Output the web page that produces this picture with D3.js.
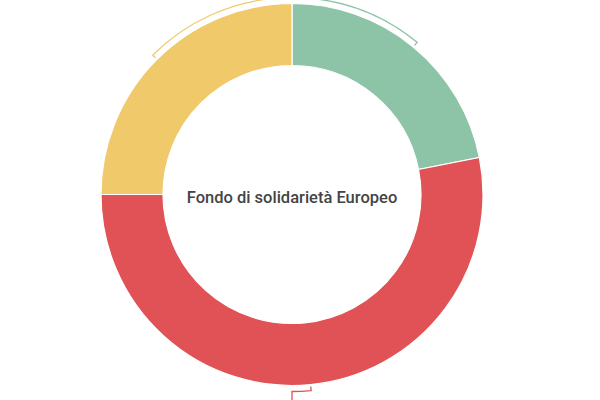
<!DOCTYPE html>
<html>
<head>
<meta charset="utf-8">
<script src="https://cdn.jsdelivr.net/npm/d3@7"></script>
<style>
html,body{margin:0;padding:0;background:#fff;overflow:hidden;}
svg{display:block;}
</style>
</head>
<body>
<svg id="chart" width="600" height="400"></svg>
<script>
const categories = ["Verde", "Rosso", "Giallo"];
const values = [21.9, 53.1, 25.0];
const colors = ["#8dc3a7", "#e05256", "#f0c96a"];
// angle (degrees, clockwise from top) where each leader line leaves toward its label
const labelAngles = [4, 180, 356];
const centerTitle = "Fondo di solidarietà Europeo";

const W = 600, H = 400;
const cx = 292, cy = 194.5;
const outerR = 191, innerR = 129;
const bracketR = 197, tickR = 193, outR = 240;

const svg = d3.select("#chart");
const g = svg.append("g").attr("transform", `translate(${cx},${cy})`);

const data = categories.map((c, i) => ({ name: c, value: values[i], color: colors[i], labelAngle: labelAngles[i] }));
const pie = d3.pie().value(d => d.value).sort(null);
const arcs = pie(data);
const arc = d3.arc().innerRadius(innerR).outerRadius(outerR);

g.selectAll("path.slice").data(arcs).join("path")
  .attr("class", "slice")
  .attr("d", arc)
  .attr("fill", d => d.data.color)
  .attr("stroke", "#fff")
  .attr("stroke-width", 1.2);

function pt(a, r) { return [r * Math.sin(a), -r * Math.cos(a)]; }

g.selectAll("path.leader").data(arcs).join("path")
  .attr("class", "leader")
  .attr("fill", "none")
  .attr("stroke", d => d.data.color)
  .attr("stroke-width", 1.3)
  .attr("d", d => {
    const mid = (d.startAngle + d.endAngle) / 2;
    const la = d.data.labelAngle * Math.PI / 180;
    const p = d3.path();
    const a = pt(mid, tickR);
    p.moveTo(a[0], a[1]);
    const b = pt(mid, bracketR);
    p.lineTo(b[0], b[1]);
    const s = mid - Math.PI / 2, e = la - Math.PI / 2;
    p.arc(0, 0, bracketR, s, e, e < s);
    const c = pt(la, outR);
    p.lineTo(c[0], c[1]);
    return p.toString();
  });

g.append("text")
  .attr("x", 0).attr("y", 8.2)
  .attr("text-anchor", "middle")
  .attr("font-family", "Roboto, sans-serif")
  .attr("font-size", 16.5)
  .attr("font-weight", 500)
  .attr("fill", "#444")
  .text(centerTitle);
</script>
</body>
</html>
